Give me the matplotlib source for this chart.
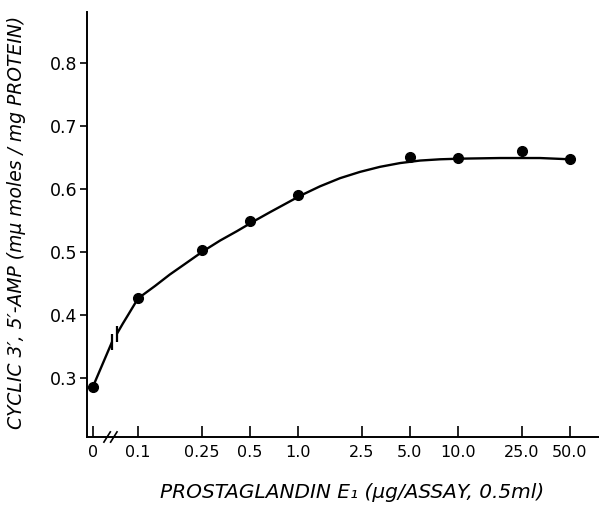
import numpy as np
import matplotlib
matplotlib.use("Agg")
import matplotlib.pyplot as plt
import matplotlib.transforms as mtransforms

# ---- data ----
dose = [0, 0.1, 0.25, 0.5, 1.0, 5.0, 10.0, 25.0, 50.0]
camp = [0.286, 0.426, 0.503, 0.549, 0.590, 0.651, 0.649, 0.660, 0.647]

# hand-drawn fitted curve, two pieces either side of the axis break
curve1_x = [0, 0.042]
curve1_y = [0.287, 0.357]
curve2_x = [0.053, 0.066, 0.078, 0.089, 0.1, 0.128, 0.158, 0.197, 0.255, 0.326,
            0.416, 0.524, 0.668, 0.83, 1.03, 1.37, 1.83, 2.44, 3.25, 4.34,
            5.79, 7.72, 10.3, 18.3, 32.5, 50.0]
curve2_y = [0.370, 0.386, 0.400, 0.413, 0.426, 0.446, 0.464, 0.481, 0.501, 0.518,
            0.533, 0.548, 0.563, 0.576, 0.589, 0.604, 0.617, 0.627, 0.635, 0.641,
            0.645, 0.647, 0.648, 0.649, 0.649, 0.647]

xticks = [0, 0.1, 0.25, 0.5, 1.0, 2.5, 5.0, 10.0, 25.0, 50.0]
xticklabels = ["0", "0.1", "0.25", "0.5", "1.0", "2.5", "5.0", "10.0", "25.0", "50.0"]
yticks = [0.3, 0.4, 0.5, 0.6, 0.7, 0.8]
yticklabels = ["0.3", "0.4", "0.5", "0.6", "0.7", "0.8"]
break_x = [0.031, 0.046]

# broken axis: linear from 0 to 0.1, logarithmic above 0.1
ZPOS = -1.28


def fwd(x):
    x = np.asarray(x, dtype=float)
    with np.errstate(divide="ignore", invalid="ignore"):
        lg = np.log10(np.maximum(x, 1e-12))
    lin = ZPOS + (x / 0.1) * (-1 - ZPOS)
    return np.where(x >= 0.1, lg, lin)


def inv(u):
    u = np.asarray(u, dtype=float)
    lin = (u - ZPOS) / (-1 - ZPOS) * 0.1
    return np.where(u >= -1, 10.0 ** u, lin)


plt.rcParams["font.family"] = ["DejaVu Sans"]

fig = plt.figure(figsize=(5.99, 5.19), dpi=100)
ax = fig.add_axes([0.1452, 0.158, 0.8548, 0.819])
ax.set_xscale("function", functions=(fwd, inv))

ax.plot(curve1_x, curve1_y, color="black", lw=1.7, solid_capstyle="butt")
ax.plot(curve2_x, curve2_y, color="black", lw=1.7, solid_capstyle="butt",
        solid_joinstyle="round")
# break ticks on the curve
ax.plot([curve1_x[-1]], [curve1_y[-1]], marker="|", ms=11, mew=1.6, color="black")
ax.plot([curve2_x[0]], [curve2_y[0]], marker="|", ms=11, mew=1.6, color="black")

ax.plot(dose, camp, "o", color="black", ms=7, zorder=3)

ax.set_xlim(inv(-1.319), inv(1.881))
ax.set_ylim(0.206, 0.881)

for s in ["top", "right"]:
    ax.spines[s].set_visible(False)
for s in ["left", "bottom"]:
    ax.spines[s].set_linewidth(1.4)

ax.set_xticks(xticks)
ax.set_xticklabels(xticklabels)
ax.set_yticks(yticks)
ax.set_yticklabels(yticklabels)
ax.xaxis.set_minor_locator(matplotlib.ticker.NullLocator())
ax.tick_params(axis="x", direction="in", length=8, width=1.2, pad=6, labelsize=11.5)
ax.tick_params(axis="y", direction="out", length=5, width=1.2, pad=2, labelsize=12.5)

# axis break marks
trans = mtransforms.blended_transform_factory(ax.transData, ax.transAxes)
for bx in break_x:
    u = fwd(bx)
    ax.plot([inv(u - 0.02), inv(u + 0.02)], [-0.012, 0.012], color="black",
            lw=1.2, transform=trans, clip_on=False)

fig.text(0.588, 0.052, "PROSTAGLANDIN E\u2081 (\u03bcg/ASSAY, 0.5ml)",
         ha="center", va="center", fontsize=14.5, style="italic")
fig.text(0.028, 0.572, "CYCLIC 3\u2032, 5\u2032-AMP (m\u03bc moles / mg PROTEIN)",
         ha="center", va="center", fontsize=13.5, style="italic", rotation=90)

fig.savefig("out.png", dpi=100)
